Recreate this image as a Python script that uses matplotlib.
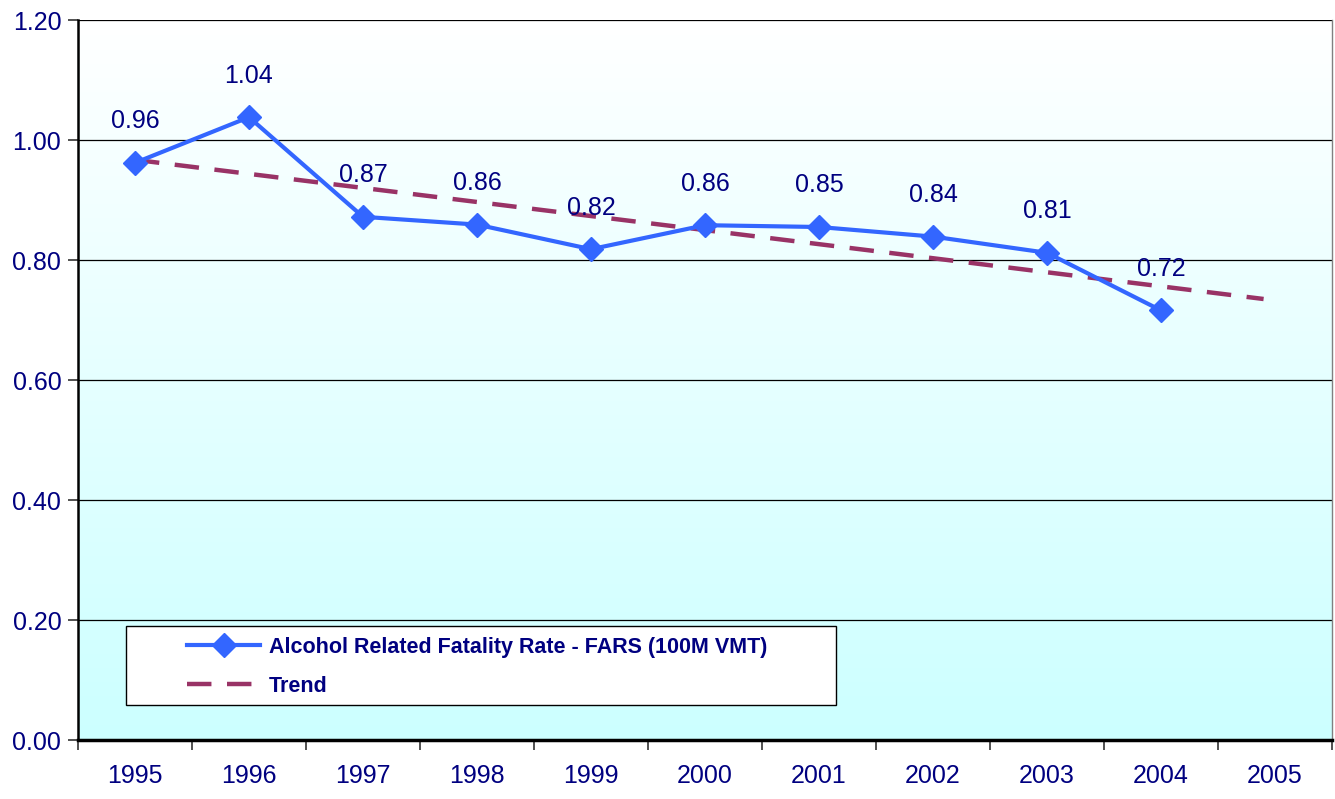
import matplotlib
matplotlib.use("Agg")
import matplotlib.pyplot as plt
from matplotlib.patches import Rectangle
import numpy as np

years = ["1995", "1996", "1997", "1998", "1999", "2000", "2001", "2002", "2003", "2004", "2005"]
rate = [0.962, 1.038, 0.872, 0.859, 0.818, 0.858, 0.855, 0.839, 0.812, 0.716]
rate_labels = ["0.96", "1.04", "0.87", "0.86", "0.82", "0.86", "0.85", "0.84", "0.81", "0.72"]
trend_years_idx = [0, 9.9]
trend_values = [0.967, 0.735]
yticks = [0.0, 0.2, 0.4, 0.6, 0.8, 1.0, 1.2]

NAVY = "#000080"
BLUE = "#3366FF"
MAROON = "#993366"

plt.rcParams['font.family'] = ['Liberation Sans', 'DejaVu Sans']

W, H = 1335, 799
fig = plt.figure(figsize=(W/100, H/100), dpi=100)
L, R, T, B = 78, 1332, 20, 740
ax = fig.add_axes([L/W, 1 - B/H, (R-L)/W, (B-T)/H])

ax.set_xlim(-0.5, 10.5)
ax.set_ylim(0, 1.2)

# gradient background
grad = np.linspace(0, 1, 256).reshape(-1, 1)
top = np.array([1.0, 1.0, 1.0])
bot = np.array([0xCC/255, 1.0, 1.0])
img = top[None, None, :] * (1 - grad[:, :, None]) + bot[None, None, :] * grad[:, :, None]
ax.imshow(img, extent=[-0.5, 10.5, 0, 1.2], aspect='auto', origin='upper', zorder=0)

# gridlines
for yv in yticks[1:]:
    ax.axhline(yv, color='black', lw=0.9, zorder=1)

x = np.arange(len(rate))
tr, = ax.plot(trend_years_idx, trend_values, color=MAROON, lw=3.2, dashes=(5.5, 3.5), zorder=2,
              label="Trend", dash_capstyle='butt')
ln, = ax.plot(x, rate, color=BLUE, lw=3, marker='D', markersize=12, zorder=3,
              label="Alcohol Related Fatality Rate - FARS (100M VMT)")

for xi, v, lab in zip(x, rate, rate_labels):
    ax.annotate(lab, (xi, v), xytext=(0, 30), textcoords='offset points',
                ha='center', va='center', fontsize=18, color=NAVY, zorder=4)

ax.set_yticks(yticks)
ax.set_yticklabels([f"{v:.2f}" for v in yticks], fontsize=18, color=NAVY)
ax.set_xticks(np.arange(-0.5, 11, 1.0))
ax.set_xticklabels([])
ax.set_xticks(np.arange(11), minor=True)
ax.set_xticklabels(years, minor=True, fontsize=18, color=NAVY)
ax.tick_params(axis='x', which='minor', length=0, pad=17)
ax.tick_params(axis='x', which='major', length=7, width=1.2, color='#333333')
ax.tick_params(axis='y', length=7, width=1.2, color='#333333', pad=5)

ax.spines['left'].set_color('black')
ax.spines['bottom'].set_color('black')
ax.spines['left'].set_linewidth(1.8)
ax.spines['bottom'].set_linewidth(2.5)
ax.spines['top'].set_visible(False)
ax.spines['right'].set_color('#808080')
ax.spines['right'].set_linewidth(1)

# legend box
def ax_xy(px, py):
    return ((px - L) / (R - L), (B - py) / (B - T))

x0, y0 = ax_xy(126, 705)
x1, y1 = ax_xy(836, 626)
ax.add_patch(Rectangle((x0, y0), x1 - x0, y1 - y0, transform=ax.transAxes,
                       facecolor='white', edgecolor='black', lw=1, zorder=5))
lx, ly = ax_xy(187, 637)
leg = ax.legend([ln, tr], [ln.get_label(), tr.get_label()], loc='upper left',
                bbox_to_anchor=(lx, ly), frameon=False, borderaxespad=0, borderpad=0,
                prop={'weight': 'bold', 'size': 15.5}, handlelength=3.4, labelspacing=0.82,
                handletextpad=0.4)
leg.set_zorder(6)
for t in leg.get_texts():
    t.set_color(NAVY)

fig.savefig("out.png", dpi=100)
